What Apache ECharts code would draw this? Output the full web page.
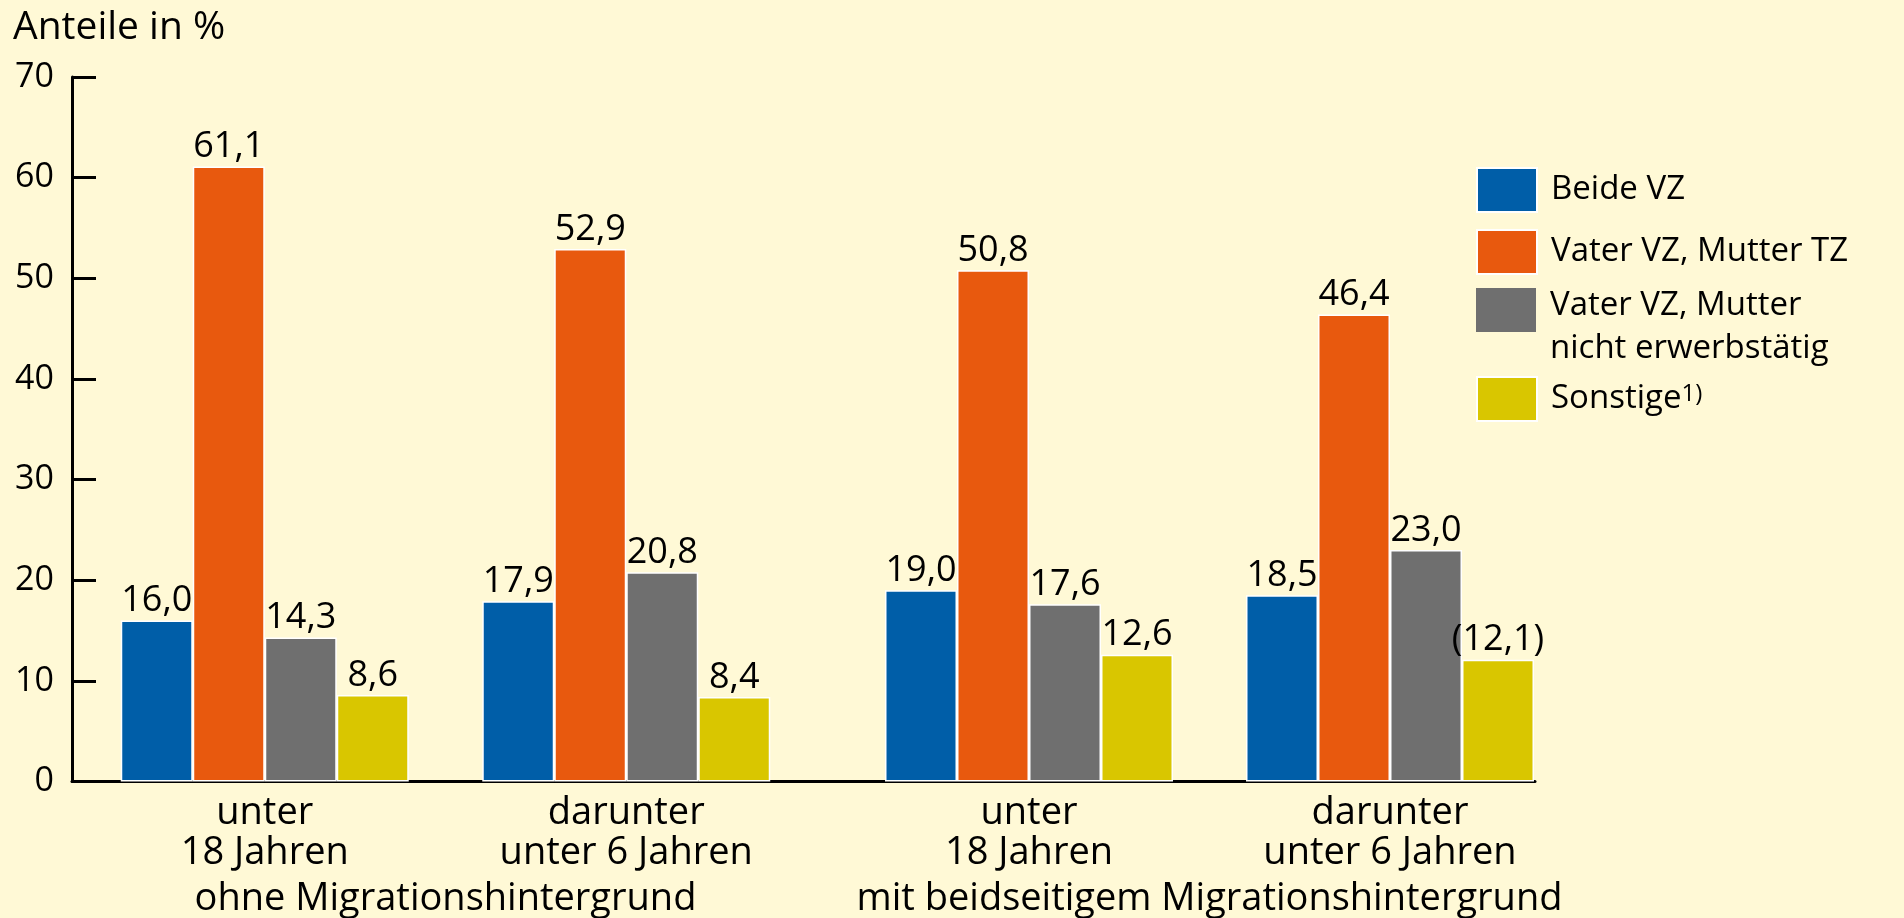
<!DOCTYPE html>
<html>
<head>
<meta charset="utf-8">
<script src="https://cdn.jsdelivr.net/npm/echarts@6/dist/echarts.min.js"></script>
<style>
html,body{margin:0;padding:0;background:#FFF9D6;}
#c{width:1904px;height:918px;}
</style>
</head>
<body>
<div id="c"></div>
<script>
// ---- data ----
const categories = ['unter\n18 Jahren', 'darunter\nunter 6 Jahren', 'unter\n18 Jahren', 'darunter\nunter 6 Jahren'];
const groupLabels = ['ohne Migrationshintergrund', 'mit beidseitigem Migrationshintergrund'];
const seriesNames = ['Beide VZ', 'Vater VZ, Mutter TZ', 'Vater VZ, Mutter nicht erwerbstätig', 'Sonstige'];
const beideVZ = [16.0, 17.9, 19.0, 18.5];
const vaterVZMutterTZ = [61.1, 52.9, 50.8, 46.4];
const vaterVZMutterNE = [14.3, 20.8, 17.6, 23.0];
const sonstige = [8.6, 8.4, 12.6, 12.1];
const sonstigeInKlammern = [false, false, false, true];
const yTicks = [0, 10, 20, 30, 40, 50, 60, 70];
const yAxisTitle = 'Anteile in %';

// ---- styling ----
const FONT = 'Open Sans';
const colors = ['#005EA8', '#E8590E', '#6F6F6F', '#D9C600'];
const values = [beideVZ, vaterVZMutterTZ, vaterVZMutterNE, sonstige];
const yMin = yTicks[0], yMax = yTicks[yTicks.length - 1], yStep = yTicks[1] - yTicks[0];
const gridTop = 77, gridBottom = 136.5;

const series = [];
[0, 1].forEach(g => {
  values.forEach((arr, i) => {
    series.push({
      type: 'bar',
      name: seriesNames[i],
      xAxisIndex: g + 1,
      yAxisIndex: g + 1,
      data: arr.slice(g * 2, g * 2 + 2),
      barWidth: 72,
      barGap: '0%',
      itemStyle: { color: colors[i], borderColor: '#ffffff', borderWidth: 1.5 },
      label: {
        show: true,
        position: 'top',
        distance: 1.5,
        fontFamily: FONT,
        fontSize: 36,
        color: '#000',
        formatter: p => {
          const idx = g * 2 + p.dataIndex;
          let s = Number(p.value).toFixed(1).replace('.', ',');
          if (i === 3 && sonstigeInKlammern[idx]) s = '(' + s + ')';
          return s;
        }
      }
    });
  });
});

const catAxis = (g) => ({
  type: 'category',
  gridIndex: g + 1,
  data: categories.slice(g * 2, g * 2 + 2),
  axisLine: { show: false },
  axisTick: { show: false },
  axisLabel: { fontFamily: FONT, fontSize: 38, lineHeight: 40, color: '#000', margin: 12, interval: 0 },
  name: groupLabels[g],
  nameLocation: 'middle',
  nameGap: 98,
  nameTextStyle: { fontFamily: FONT, fontSize: 38, lineHeight: 40, color: '#000' }
});

const legendBase = {
  orient: 'vertical',
  left: 1476,
  itemWidth: 60,
  itemHeight: 44,
  itemGap: 16,
  padding: 0,
  icon: 'rect',
  selectedMode: false
};

const option = {
  backgroundColor: '#FFF9D6',
  animation: false,
  title: {
    text: yAxisTitle,
    left: 13,
    top: 8,
    padding: 0,
    textStyle: { fontFamily: FONT, fontSize: 39, fontWeight: 'normal', color: '#000' }
  },
  legend: [
    Object.assign({}, legendBase, {
      top: 167,
      data: [seriesNames[0], seriesNames[1]],
      textStyle: { fontFamily: FONT, fontSize: 33, color: '#000', padding: [0, 0, 0, 9] }
    }),
    Object.assign({}, legendBase, {
      top: 284,
      itemHeight: 78,
      // square in the upper part of a 60x78 legend cell, so the two text lines start at the square's top
      icon: 'path://M0 0H60V44H0Z M0 78H60',
      itemStyle: { borderWidth: 0 },
      data: [seriesNames[2]],
      formatter: n => n.replace(' nicht', '\nnicht'),
      textStyle: { fontFamily: FONT, fontSize: 33, lineHeight: 43, color: '#000', padding: [0, 0, 0, 9] }
    }),
    Object.assign({}, legendBase, {
      top: 376,
      data: [seriesNames[3]],
      formatter: n => n + '{sup|1)}',
      textStyle: {
        fontFamily: FONT, fontSize: 33, color: '#000', padding: [0, 0, 0, 9],
        rich: { sup: { fontFamily: FONT, fontSize: 24, color: '#000', verticalAlign: 'top' } }
      }
    })
  ],
  grid: [
    { left: 72, right: 369, top: gridTop, bottom: gridBottom, containLabel: false, outerBoundsMode: 'none' },
    { left: 84, width: 723, top: gridTop, bottom: gridBottom, containLabel: false, outerBoundsMode: 'none' },
    { left: 848.5, width: 722, top: gridTop, bottom: gridBottom, containLabel: false, outerBoundsMode: 'none' }
  ],
  xAxis: [
    {
      type: 'value', gridIndex: 0, min: 0, max: 1,
      axisLine: { show: true, onZero: false, lineStyle: { color: '#000', width: 3 } },
      axisTick: { show: false }, axisLabel: { show: false }, splitLine: { show: false }
    },
    catAxis(0),
    catAxis(1)
  ],
  yAxis: [
    {
      type: 'value', gridIndex: 0, min: yMin, max: yMax, interval: yStep,
      axisLine: { show: true, lineStyle: { color: '#000', width: 3 } },
      axisTick: { show: true, inside: true, length: 24, lineStyle: { color: '#000', width: 3 } },
      axisLabel: { fontFamily: FONT, fontSize: 34, color: '#000', margin: 18 },
      splitLine: { show: false }
    },
    { type: 'value', gridIndex: 1, min: yMin, max: yMax, show: false },
    { type: 'value', gridIndex: 2, min: yMin, max: yMax, show: false }
  ],
  series: series
};

const chart = echarts.init(document.getElementById('c'), null, { renderer: 'canvas' });
chart.setOption(option);
</script>
</body>
</html>
